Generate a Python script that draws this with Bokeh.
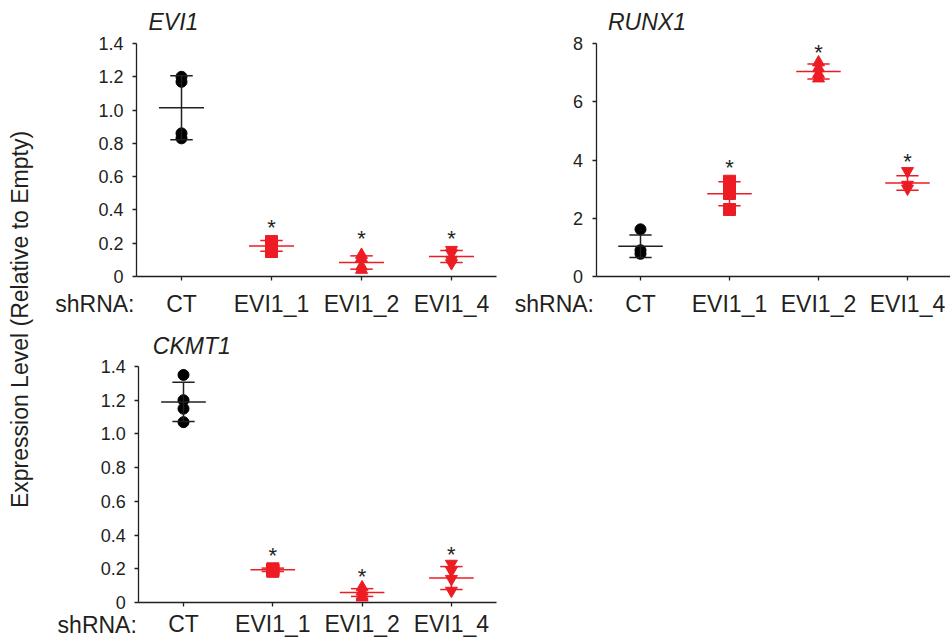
import math
from bokeh.plotting import figure
from bokeh.layouts import row, column
from bokeh.models import FixedTicker, Label, Range1d, LinearAxis
from bokeh.embed import file_html
from bokeh.resources import INLINE
from bokeh.core.properties import value

# ---------------- data ----------------
groups = ["CT", "EVI1_1", "EVI1_2", "EVI1_4"]
group_x = [1, 2, 3, 4]
markers = ["circle", "square", "triangle", "inverted_triangle"]
colors = ["#000000", "#ED1C24", "#ED1C24", "#ED1C24"]
line_colors = ["#231F20", "#ED1C24", "#ED1C24", "#ED1C24"]

evi1_points = [[1.20, 1.17, 0.86, 0.83],
               [0.21, 0.20, 0.17, 0.15],
               [0.13, 0.11, 0.06, 0.04],
               [0.16, 0.14, 0.10, 0.08]]
evi1_mean = [1.014, 0.184, 0.084, 0.120]
evi1_err = [0.192, 0.032, 0.040, 0.036]
evi1_star = [None, 0.32, 0.25, 0.25]
evi1_ticks = [0, 0.2, 0.4, 0.6, 0.8, 1.0, 1.2, 1.4]
evi1_tick_labels = ["0", "0.2", "0.4", "0.6", "0.8", "1.0", "1.2", "1.4"]

runx1_points = [[1.62, 0.90, 0.78],
                [3.27, 3.05, 2.85, 2.30],
                [7.35, 7.15, 6.95, 6.80],
                [3.62, 3.15, 3.02]]
runx1_mean = [1.04, 2.84, 7.04, 3.21]
runx1_err = [0.385, 0.41, 0.26, 0.245]
runx1_star = [None, 3.87, 7.84, 4.10]
runx1_ticks = [0, 2, 4, 6, 8]
runx1_tick_labels = ["0", "2", "4", "6", "8"]

ckmt1_points = [[1.35, 1.20, 1.15, 1.07],
                [0.20, 0.195, 0.19, 0.185],
                [0.09, 0.065, 0.04, 0.03],
                [0.23, 0.19, 0.14, 0.07]]
ckmt1_mean = [1.19, 0.194, 0.059, 0.145]
ckmt1_err = [0.117, 0.010, 0.023, 0.068]
ckmt1_star = [None, 0.30, 0.176, 0.31]
ckmt1_ticks = [0, 0.2, 0.4, 0.6, 0.8, 1.0, 1.2, 1.4]
ckmt1_tick_labels = ["0", "0.2", "0.4", "0.6", "0.8", "1.0", "1.2", "1.4"]

FONT = "Liberation Sans"
TXT = "#231F20"
MEAN_HALF = 0.25
CAP_HALF = 0.125


def make_panel(title, points, mean, err, star, ticks, tick_labels, ymax, xaxis_end,
               width, height, px_x1, px_unit, px_y0, px_ytop,
               title_dx, title_dy, xlab_standoff, shrna_dy):
    # layout: pixel position (within this figure) of x=1, pixels per group,
    # pixel row of y=0 and of y=ymax
    x_start = 1 - px_x1 / px_unit
    x_end = x_start + width / px_unit
    y_scale = (px_y0 - px_ytop) / ymax
    y_end = ymax + px_ytop / y_scale
    y_start = -(height - px_y0) / y_scale
    if xaxis_end is None:
        xaxis_end = x_end

    p = figure(width=width, height=height, output_backend="svg", toolbar_location=None,
               x_range=Range1d(x_start, x_end), y_range=Range1d(y_start, y_end),
               x_axis_location=None, y_axis_location=None,
               min_border=0, min_border_left=0, min_border_right=0,
               min_border_top=0, min_border_bottom=0)
    p.outline_line_color = None
    for g in p.grid:
        g.visible = False
    p.background_fill_color = "white"
    p.border_fill_color = "white"

    xaxis = LinearAxis(fixed_location=0, bounds=(0.5, xaxis_end),
                       ticker=FixedTicker(ticks=group_x),
                       major_label_overrides={gx: g for gx, g in zip(group_x, groups)})
    yaxis = LinearAxis(fixed_location=0.5, bounds=(0, ymax),
                       ticker=FixedTicker(ticks=ticks),
                       major_label_overrides={t: l for t, l in zip(ticks, tick_labels)})
    for ax in (xaxis, yaxis):
        ax.axis_line_color = TXT
        ax.axis_line_width = 1.3
        ax.major_tick_line_color = TXT
        ax.major_tick_line_width = 1.3
        ax.major_tick_in = 0
        ax.major_tick_out = 4
        ax.minor_tick_line_color = None
        ax.major_label_text_font = FONT
        ax.major_label_text_color = TXT
    xaxis.major_label_text_font_size = "23px"
    xaxis.major_label_standoff = xlab_standoff
    yaxis.major_label_text_font_size = "18px"
    yaxis.major_label_standoff = 9
    p.add_layout(xaxis, "below")
    p.add_layout(yaxis, "left")

    for i, gx in enumerate(group_x):
        pts = points[i]
        p.scatter([gx] * len(pts), pts, marker=markers[i], size=12 if i else 11,
                  fill_color=colors[i], line_color=colors[i])
        lc = line_colors[i]
        lo, hi = mean[i] - err[i], mean[i] + err[i]
        p.segment([gx], [lo], [gx], [hi], line_color=lc, line_width=1.5)
        p.segment([gx - CAP_HALF, gx - CAP_HALF], [lo, hi], [gx + CAP_HALF, gx + CAP_HALF], [lo, hi],
                  line_color=lc, line_width=1.5)
        p.segment([gx - MEAN_HALF], [mean[i]], [gx + MEAN_HALF], [mean[i]],
                  line_color=lc, line_width=1.5)
        if star[i] is not None:
            p.text([gx], [star[i]], text=["*"], text_align="center", text_baseline="middle",
                   text_font=value(FONT), text_font_size="22px", text_color=TXT, y_offset=4)

    p.add_layout(Label(x=0.5, y=ymax, x_offset=title_dx, y_offset=title_dy, text=title,
                       text_font=FONT, text_font_style="italic", text_font_size="23px",
                       text_color=TXT, text_baseline="alphabetic", text_align="left"))
    p.add_layout(Label(x=0.5, y=0, x_offset=-2, y_offset=shrna_dy, text="shRNA:",
                       text_font=FONT, text_font_size="23px", text_color=TXT,
                       text_baseline="alphabetic", text_align="right"))
    return p


p1 = make_panel("EVI1", evi1_points, evi1_mean, evi1_err, evi1_star, evi1_ticks,
                evi1_tick_labels, 1.4, 4.5, 470, 318,
                143, 90, 276, 43, 12, 22, 10, -27)
p2 = make_panel("RUNX1", runx1_points, runx1_mean, runx1_err, runx1_star, runx1_ticks,
                runx1_tick_labels, 8, None, 442, 318,
                132, 89, 276, 43, 12, 22, 10, -27)
p3 = make_panel("CKMT1", ckmt1_points, ckmt1_mean, ckmt1_err, ckmt1_star, ckmt1_ticks,
                ckmt1_tick_labels, 1.4, 4.5, 470, 323,
                145, 89.3, 284, 48, 14, 21, 4, -22)

lab = figure(width=38, height=641, output_backend="svg", toolbar_location=None,
             x_range=Range1d(0, 38), y_range=Range1d(0, 641),
             x_axis_location=None, y_axis_location=None,
             min_border=0, min_border_left=0, min_border_right=0,
             min_border_top=0, min_border_bottom=0)
for g in lab.grid:
    g.visible = False
lab.outline_line_color = None
lab.add_layout(Label(x=19, y=322, angle=math.pi / 2, text="Expression Level (Relative to Empty)",
                     text_font=FONT, text_font_size="23px", text_color=TXT,
                     text_align="center", text_baseline="middle"))

layout = row(lab, column(row(p1, p2), p3))
open("out.html", "w").write(file_html(layout, INLINE))
